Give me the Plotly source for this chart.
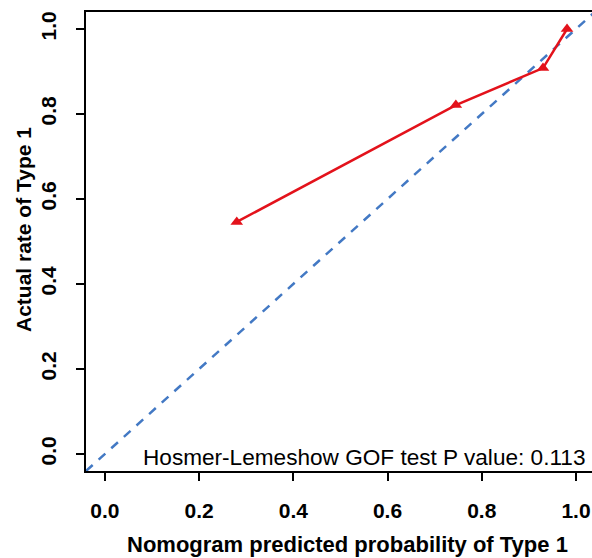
import plotly.graph_objects as go

# Calibration data
predicted = [0.28, 0.745, 0.93, 0.981]
actual = [0.546, 0.821, 0.908, 1.0]
ref_line = [-0.04, 1.04]
x_ticks = [0.0, 0.2, 0.4, 0.6, 0.8, 1.0]
y_ticks = [0.0, 0.2, 0.4, 0.6, 0.8, 1.0]
tick_text = ["0.0", "0.2", "0.4", "0.6", "0.8", "1.0"]

FONT = "Liberation Sans, Arial, sans-serif"

fig = go.Figure()
fig.add_trace(go.Scatter(
    x=ref_line, y=ref_line, mode="lines",
    line=dict(color="#4379C4", width=2.5, dash="9px,8px"),
    hoverinfo="skip", showlegend=False))
fig.add_trace(go.Scatter(
    x=predicted, y=actual, mode="lines+markers",
    line=dict(color="#E3121B", width=2.5),
    marker=dict(symbol="triangle-up", size=11, color="#E3121B"),
    showlegend=False))

fig.update_layout(
    width=592, height=558,
    margin=dict(l=86, r=0, t=12, b=87),
    plot_bgcolor="white", paper_bgcolor="white",
    font=dict(family=FONT, color="black"),
    xaxis=dict(range=[-0.04, 1.034], tickvals=x_ticks, ticktext=tick_text,
               showgrid=False, zeroline=False, showline=True, linecolor="black",
               linewidth=2, mirror=True, ticks="outside", ticklen=8, tickwidth=1.5,
               tickcolor="black", ticklabelstandoff=12,
               tickfont=dict(family=FONT, size=21, color="black", weight="bold")),
    yaxis=dict(range=[-0.04, 1.04], tickvals=y_ticks, ticktext=tick_text,
               showgrid=False, zeroline=False, showline=True, linecolor="black",
               linewidth=2, mirror=False, ticks="outside", ticklen=8, tickwidth=1.5,
               tickcolor="black", tickangle=-90, ticklabelstandoff=12,
               tickfont=dict(family=FONT, size=21, color="black", weight="bold")),
    annotations=[
        dict(text="Hosmer-Lemeshow GOF test P value: 0.113", xref="paper", yref="paper",
             x=0.990, y=0.0305, xanchor="right", yanchor="middle", showarrow=False,
             font=dict(family=FONT, size=22.6, color="black")),
        dict(text="<b>Nomogram predicted probability of Type 1</b>", xref="paper", yref="paper",
             x=0.516, y=-0.1612, xanchor="center", yanchor="middle", showarrow=False,
             font=dict(family=FONT, size=22, color="black")),
        dict(text="<b>Actual rate of Type 1</b>", xref="paper", yref="paper",
             x=-0.1245, y=0.525, xanchor="center", yanchor="middle", showarrow=False,
             textangle=-90, font=dict(family=FONT, size=21, color="black")),
    ],
)

fig.write_html("out.html", config={"displayModeBar": False},
               post_script="document.body.style.margin='0';document.body.style.overflow='hidden';")
